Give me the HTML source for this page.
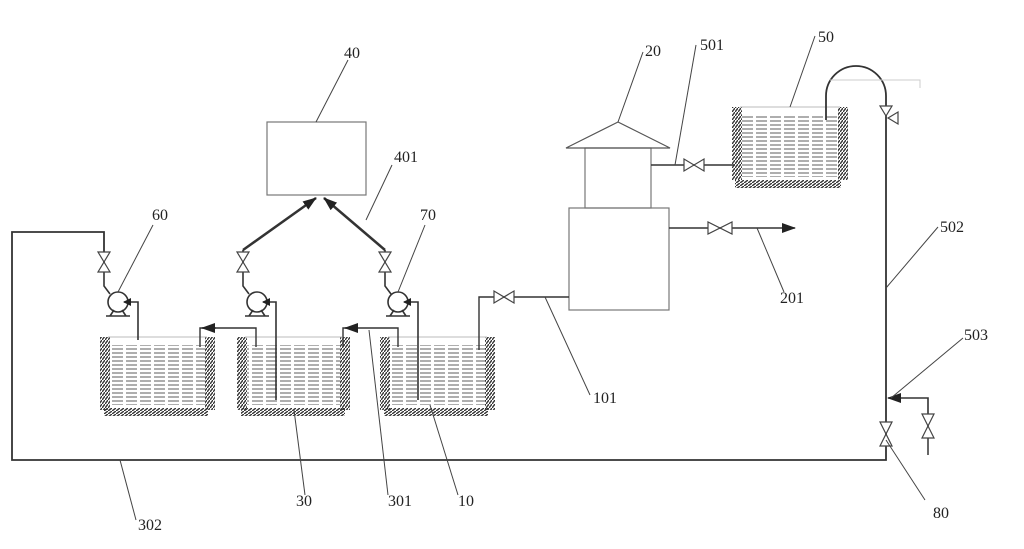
<!DOCTYPE html>
<html><head><meta charset="utf-8"><style>
html,body{margin:0;padding:0;background:#fff;}
svg{display:block;}
text{font-family:"Liberation Serif",serif;font-size:16px;fill:#222;}
</style></head><body>
<svg width="1024" height="549" viewBox="0 0 1024 549" xmlns="http://www.w3.org/2000/svg">
<defs>
<pattern id="hv" width="3" height="4" patternUnits="userSpaceOnUse"><line x1="0" y1="4" x2="3" y2="0" stroke="#333" stroke-width="1.4"/></pattern>
<pattern id="hh" width="4" height="3" patternUnits="userSpaceOnUse"><line x1="0" y1="3" x2="4" y2="0" stroke="#333" stroke-width="1.4"/></pattern>
<pattern id="wt" width="14" height="4" patternUnits="userSpaceOnUse"><line x1="0" y1="1" x2="11" y2="1" stroke="#9a9a9a" stroke-width="1.6"/></pattern>
<marker id="ar" markerWidth="8" markerHeight="8" refX="7" refY="4" orient="auto" markerUnits="userSpaceOnUse"><path d="M0,0 L8,4 L0,8 z" fill="#222"/></marker>
<marker id="arb" markerWidth="14" markerHeight="10" refX="13" refY="5" orient="auto" markerUnits="userSpaceOnUse"><path d="M0,0 L14,5 L0,10 z" fill="#222"/></marker>
</defs>
<g stroke="#333" fill="none" stroke-width="1.5">
<g>
<rect x="110" y="345" width="95" height="60" fill="url(#wt)" stroke="none"/>
<rect x="100" y="337" width="10" height="73" fill="url(#hv)" stroke="none"/>
<rect x="205" y="337" width="10" height="73" fill="url(#hv)" stroke="none"/>
<rect x="104" y="408" width="104" height="8" fill="url(#hh)" stroke="none"/>
<line x1="108" y1="337" x2="207" y2="337" stroke="#bbb" stroke-width="1"/>
</g>
<g>
<rect x="247" y="345" width="93" height="60" fill="url(#wt)" stroke="none"/>
<rect x="237" y="337" width="10" height="73" fill="url(#hv)" stroke="none"/>
<rect x="340" y="337" width="10" height="73" fill="url(#hv)" stroke="none"/>
<rect x="241" y="408" width="104" height="8" fill="url(#hh)" stroke="none"/>
<line x1="245" y1="337" x2="342" y2="337" stroke="#bbb" stroke-width="1"/>
</g>
<g>
<rect x="390" y="345" width="95" height="60" fill="url(#wt)" stroke="none"/>
<rect x="380" y="337" width="10" height="73" fill="url(#hv)" stroke="none"/>
<rect x="485" y="337" width="10" height="73" fill="url(#hv)" stroke="none"/>
<rect x="384" y="408" width="104" height="8" fill="url(#hh)" stroke="none"/>
<line x1="388" y1="337" x2="487" y2="337" stroke="#bbb" stroke-width="1"/>
</g>
<g>
<rect x="742" y="115" width="96" height="62" fill="url(#wt)" stroke="none"/>
<rect x="732" y="107" width="10" height="73" fill="url(#hv)" stroke="none"/>
<rect x="838" y="107" width="10" height="73" fill="url(#hv)" stroke="none"/>
<rect x="735" y="180" width="106" height="8" fill="url(#hh)" stroke="none"/>
<line x1="740" y1="107" x2="840" y2="107" stroke="#bbb" stroke-width="1"/>
</g>
<rect x="267" y="122" width="99" height="73" stroke="#777" stroke-width="1.2"/>
<rect x="585" y="148" width="66" height="60" stroke="#777" stroke-width="1.2"/>
<rect x="569" y="208" width="100" height="102" stroke="#777" stroke-width="1.2"/>
<path d="M566,148 L618,122 L670,148 Z" stroke="#555" stroke-width="1.2"/>
<path d="M104,270 V232 H12 V460 H886 V107" stroke-width="1.8"/>
<path d="M826,120 V96 A30,30 0 0 1 886,96 V107" stroke-width="1.8"/>
<path d="M830,80 H920 V88" stroke="#ccc" stroke-width="1"/>
<path d="M928,425 V398 H888" marker-end="url(#arb)" stroke-width="1.6"/>
<line x1="928" y1="425" x2="928" y2="455"/>
<g stroke-width="1.6">
<circle cx="118" cy="302" r="10"/><path d="M106,316 L130,316 M110,316 L114,310 M126,316 L122,310"/>
<path d="M138,340 V302 H124" marker-end="url(#ar)"/>
<circle cx="257" cy="302" r="10"/><path d="M245,316 L269,316 M249,316 L253,310 M265,316 L261,310"/>
<path d="M276,400 V302 H263" marker-end="url(#ar)"/>
<circle cx="398" cy="302" r="10"/><path d="M386,316 L410,316 M390,316 L394,310 M406,316 L402,310"/>
<path d="M418,400 V302 H404" marker-end="url(#ar)"/>
<path d="M104,270 V286 L110,294"/><path d="M243,250 V286 L249,294"/><path d="M385,250 V286 L391,294"/>
</g>
<path d="M243,250 L316,198" stroke-width="2.5" marker-end="url(#arb)"/>
<path d="M385,250 L324,198" stroke-width="2.5" marker-end="url(#arb)"/>
<path d="M256,347 V328 H200 V347" stroke-width="1.4"/>
<path d="M216,328 H202" marker-end="url(#arb)"/>
<path d="M398,347 V328 H343 V347" stroke-width="1.4"/>
<path d="M358,328 H345" marker-end="url(#arb)"/>
<path d="M479,350 V297 H569" stroke-width="1.4"/>
<path d="M651,165 H735" stroke-width="1.6"/>
<path d="M669,228 H795" stroke-width="1.6" marker-end="url(#arb)"/>
</g>
<g fill="#fff" stroke="#444" stroke-width="1.2">
<path d="M98,252 L110,252 L98,272 L110,272 Z"/>
<path d="M237,252 L249,252 L237,272 L249,272 Z"/>
<path d="M379,252 L391,252 L379,272 L391,272 Z"/>
<path d="M494,291 L494,303 L514,291 L514,303 Z"/>
<path d="M684,159 L684,171 L704,159 L704,171 Z"/>
<path d="M708,222 L708,234 L732,222 L732,234 Z"/>
<path d="M880,422 L892,422 L880,446 L892,446 Z"/>
<path d="M922,414 L934,414 L922,438 L934,438 Z"/>
<path d="M880,106 L892,106 L886,116 Z"/>
<path d="M898,112 L898,124 L888,118 Z"/>
</g>
<g stroke="#444" stroke-width="1">
<line x1="316" y1="122" x2="348" y2="60"/>
<line x1="366" y1="220" x2="392" y2="165"/>
<line x1="118" y1="292" x2="153" y2="225"/>
<line x1="398" y1="292" x2="425" y2="225"/>
<line x1="618" y1="122" x2="643" y2="52"/>
<line x1="675" y1="165" x2="696" y2="45"/>
<line x1="790" y1="107" x2="815" y2="36"/>
<line x1="886" y1="288" x2="938" y2="227"/>
<line x1="891" y1="398" x2="963" y2="338"/>
<line x1="757" y1="228" x2="784" y2="292"/>
<line x1="545" y1="297" x2="590" y2="395"/>
<line x1="294" y1="410" x2="305" y2="495"/>
<line x1="369" y1="330" x2="388" y2="495"/>
<line x1="430" y1="405" x2="458" y2="495"/>
<line x1="120" y1="460" x2="136" y2="520"/>
<line x1="886" y1="440" x2="925" y2="500"/>
</g>
<text x="344" y="58">40</text>
<text x="394" y="162">401</text>
<text x="152" y="220">60</text>
<text x="420" y="220">70</text>
<text x="645" y="56">20</text>
<text x="700" y="50">501</text>
<text x="818" y="42">50</text>
<text x="940" y="232">502</text>
<text x="964" y="340">503</text>
<text x="780" y="303">201</text>
<text x="593" y="403">101</text>
<text x="296" y="506">30</text>
<text x="388" y="506">301</text>
<text x="458" y="506">10</text>
<text x="138" y="530">302</text>
<text x="933" y="518">80</text>
</svg>
</body></html>
